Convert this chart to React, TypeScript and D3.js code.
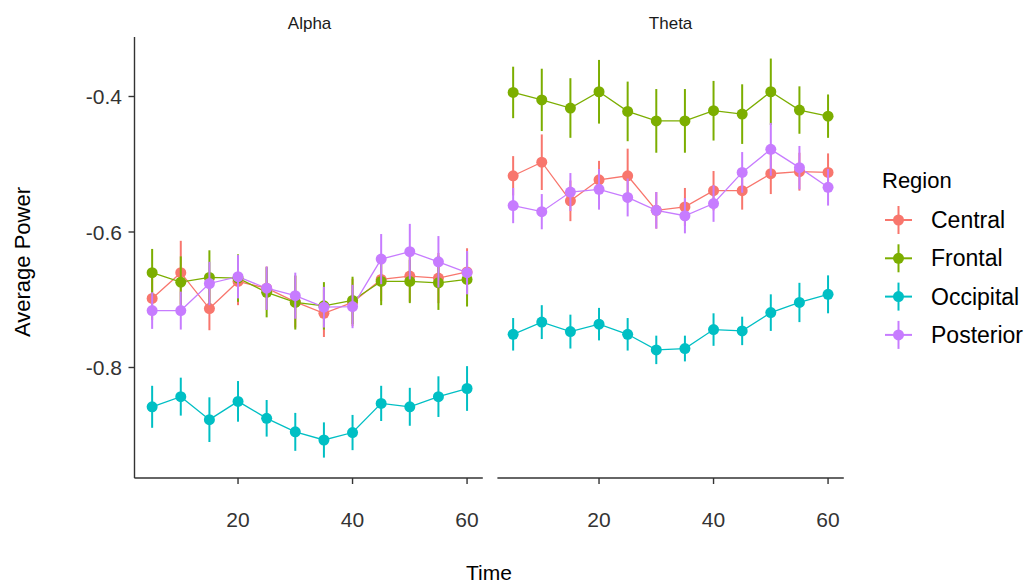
import React from "react";
import * as d3 from "d3";

const times = [5, 10, 15, 20, 25, 30, 35, 40, 45, 50, 55, 60];
const regions = ["Central", "Frontal", "Occipital", "Posterior"];
const bands = ["Alpha", "Theta"];
const colors = ["#F8766D", "#7CAE00", "#00BFC4", "#C77CFF"];
const yTicks = [-0.8, -0.6, -0.4];
const xTicks = [20, 40, 60];

// means
const alphaCentral = [-0.698, -0.66, -0.713, -0.673, -0.683, -0.703, -0.72, -0.704, -0.67, -0.665, -0.668, -0.659];
const alphaFrontal = [-0.66, -0.674, -0.667, -0.668, -0.689, -0.704, -0.709, -0.701, -0.673, -0.673, -0.675, -0.67];
const alphaOccipital = [-0.858, -0.843, -0.877, -0.85, -0.875, -0.895, -0.907, -0.896, -0.853, -0.858, -0.843, -0.831];
const alphaPosterior = [-0.716, -0.716, -0.676, -0.666, -0.683, -0.694, -0.711, -0.71, -0.64, -0.629, -0.644, -0.66];
const thetaCentral = [-0.517, -0.497, -0.554, -0.523, -0.517, -0.568, -0.563, -0.539, -0.539, -0.514, -0.511, -0.512];
const thetaFrontal = [-0.394, -0.405, -0.417, -0.393, -0.422, -0.436, -0.436, -0.421, -0.426, -0.393, -0.42, -0.429];
const thetaOccipital = [-0.751, -0.733, -0.747, -0.736, -0.751, -0.774, -0.772, -0.744, -0.746, -0.719, -0.704, -0.692];
const thetaPosterior = [-0.561, -0.57, -0.541, -0.537, -0.549, -0.568, -0.576, -0.558, -0.512, -0.478, -0.505, -0.534];

// error bar half widths
const alphaCentralSe = [0.032, 0.047, 0.032, 0.035, 0.032, 0.038, 0.035, 0.035, 0.032, 0.038, 0.037, 0.035];
const alphaFrontalSe = [0.035, 0.038, 0.04, 0.035, 0.037, 0.04, 0.035, 0.035, 0.035, 0.032, 0.04, 0.04];
const alphaOccipitalSe = [0.031, 0.028, 0.033, 0.03, 0.027, 0.028, 0.026, 0.026, 0.026, 0.028, 0.03, 0.033];
const alphaPosteriorSe = [0.027, 0.028, 0.032, 0.032, 0.032, 0.034, 0.03, 0.032, 0.037, 0.041, 0.038, 0.032];
const thetaCentralSe = [0.029, 0.041, 0.03, 0.028, 0.04, 0.027, 0.028, 0.029, 0.028, 0.03, 0.028, 0.028];
const thetaFrontalSe = [0.038, 0.046, 0.044, 0.047, 0.044, 0.047, 0.047, 0.044, 0.044, 0.049, 0.035, 0.032];
const thetaOccipitalSe = [0.024, 0.025, 0.025, 0.024, 0.024, 0.021, 0.019, 0.024, 0.021, 0.027, 0.029, 0.028];
const thetaPosteriorSe = [0.026, 0.026, 0.028, 0.03, 0.028, 0.027, 0.026, 0.027, 0.03, 0.039, 0.032, 0.027];

const means = [
  [alphaCentral, alphaFrontal, alphaOccipital, alphaPosterior],
  [thetaCentral, thetaFrontal, thetaOccipital, thetaPosterior],
];
const ses = [
  [alphaCentralSe, alphaFrontalSe, alphaOccipitalSe, alphaPosteriorSe],
  [thetaCentralSe, thetaFrontalSe, thetaOccipitalSe, thetaPosteriorSe],
];

const font = "'Liberation Sans', Arial, sans-serif";
const panelTop = 37;
const panelBottom = 478;
const panelW = 346.4;
const panelX = [136.4, 497.4];

const y = d3.scaleLinear().domain([-0.8, -0.4]).range([367.5, 96.5]);

export default function App() {
  return (
    <svg width={1032} height={586} style={{ position: "absolute", left: 0, top: 0, background: "#fff" }} fontFamily={font}>
      {bands.map((band, bi) => {
        const x = d3.scaleLinear().domain([2.25, 62.75]).range([panelX[bi], panelX[bi] + panelW]);
        const line = d3.line<number>().x((_, i) => x(times[i])).y((d) => y(d));
        return (
          <g key={band}>
            <text x={panelX[bi] + panelW / 2} y={29} textAnchor="middle" fontSize={17} fill="#1a1a1a">{band}</text>
            {regions.map((r, ri) => (
              <path key={r} d={line(means[bi][ri]) || ""} fill="none" stroke={colors[ri]} strokeWidth={1.3} />
            ))}
            {regions.map((r, ri) => (
              <g key={r} fill={colors[ri]} stroke={colors[ri]}>
                {means[bi][ri].map((m, i) => (
                  <g key={i}>
                    <line x1={x(times[i])} x2={x(times[i])} y1={y(m - ses[bi][ri][i])} y2={y(m + ses[bi][ri][i])} strokeWidth={2} />
                    <circle cx={x(times[i])} cy={y(m)} r={5.5} stroke="none" />
                  </g>
                ))}
              </g>
            ))}
            {/* x axis */}
            <line x1={panelX[bi] - (bi === 0 ? 2 : 0)} x2={panelX[bi] + panelW} y1={panelBottom} y2={panelBottom} stroke="#333" strokeWidth={1.4} />
            {xTicks.map((t) => (
              <g key={t}>
                <line x1={x(t)} x2={x(t)} y1={panelBottom} y2={panelBottom + 6} stroke="#333" strokeWidth={1.4} />
                <text x={x(t)} y={527} textAnchor="middle" fontSize={21} fill="#333">{t}</text>
              </g>
            ))}
          </g>
        );
      })}
      {/* y axis */}
      <line x1={134.5} x2={134.5} y1={panelTop} y2={panelBottom} stroke="#333" strokeWidth={1.4} />
      {yTicks.map((t) => (
        <g key={t}>
          <line x1={128.5} x2={134.5} y1={y(t)} y2={y(t)} stroke="#333" strokeWidth={1.4} />
          <text x={122} y={y(t) + 7.5} textAnchor="end" fontSize={21} fill="#333">{t.toFixed(1)}</text>
        </g>
      ))}
      <text x={489} y={580} textAnchor="middle" fontSize={21} fill="#000">Time</text>
      <text transform="translate(30,262) rotate(-90)" textAnchor="middle" fontSize={22} fill="#000">Average Power</text>
      {/* legend */}
      <text x={882} y={188} fontSize={22} fill="#000">Region</text>
      {regions.map((r, ri) => {
        const cy = 220 + ri * 38.3;
        return (
          <g key={r}>
            <line x1={885} x2={912} y1={cy} y2={cy} stroke={colors[ri]} strokeWidth={2} />
            <line x1={898.5} x2={898.5} y1={cy - 14} y2={cy + 14} stroke={colors[ri]} strokeWidth={2} />
            <circle cx={898.5} cy={cy} r={5.5} fill={colors[ri]} />
            <text x={931} y={cy + 8} fontSize={23} fill="#000">{r}</text>
          </g>
        );
      })}
    </svg>
  );
}
